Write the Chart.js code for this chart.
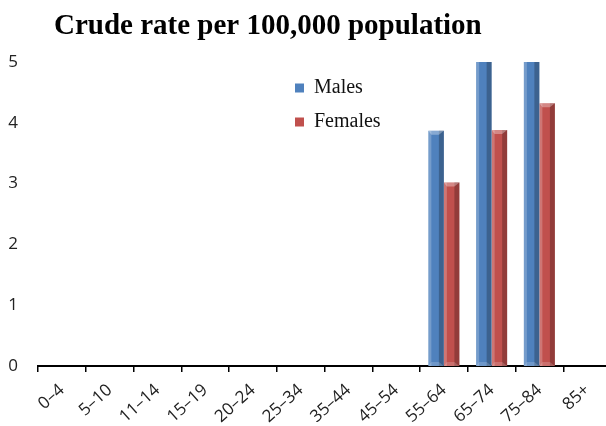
<!DOCTYPE html>
<html>
<head>
<meta charset="utf-8">
<script src="https://cdn.jsdelivr.net/npm/chart.js@4.4.1/dist/chart.umd.min.js"></script>
<style>
  html, body { margin: 0; padding: 0; background: #ffffff; overflow: hidden; }
  #wrap { width: 606px; height: 426px; overflow: hidden; position: relative; }
  canvas { display: block; }
</style>
</head>
<body>
<div id="wrap"><canvas id="c" width="614" height="426"></canvas></div>
<script>
// ---- data ----
const categories = ['0\u20134', '5\u201310', '11\u201314', '15\u201319', '20\u201324', '25\u201334', '35\u201344', '45\u201354', '55\u201364', '65\u201374', '75\u201384', '85+'];
const males   = [0, 0, 0, 0, 0, 0, 0, 0, 3.87, 5.4, 5.6, 0];   // 65–74 and 75–84 run off the top of the scale
const females = [0, 0, 0, 0, 0, 0, 0, 0, 3.02, 3.88, 4.32, 0];
const yTicks  = [0, 1, 2, 3, 4, 5];
const titleText = 'Crude rate per 100,000 population';

const BLUE = '#4f81bd';
const RED  = '#c0504d';

// bevel shading drawn over each bar using the bar elements laid out by the library
const bevelPlugin = {
  id: 'bevel',
  afterDatasetsDraw(chart) {
    const { ctx, chartArea: a } = chart;
    ctx.save();
    ctx.beginPath();
    ctx.rect(a.left, a.top, a.right - a.left, a.bottom - a.top);
    ctx.clip();
    chart.data.datasets.forEach((ds, i) => {
      const meta = chart.getDatasetMeta(i);
      meta.data.forEach(bar => {
        const { x, y, base, width } = bar.getProps(['x', 'y', 'base', 'width'], true);
        if (base - y < 1) return;
        const l = x - width / 2, r = x + width / 2;
        const e = 4;
        ctx.fillStyle = 'rgba(255,255,255,0.22)';
        ctx.fillRect(l, y, 3, base - y);
        ctx.fillStyle = 'rgba(0,0,0,0.24)';
        ctx.fillRect(r - 5, y, 5, base - y);
        ctx.fillStyle = 'rgba(255,255,255,0.32)';
        ctx.beginPath();
        ctx.moveTo(l, y); ctx.lineTo(r, y); ctx.lineTo(r - 5, y + e); ctx.lineTo(l + 3, y + e);
        ctx.closePath(); ctx.fill();
        ctx.fillStyle = 'rgba(255,255,255,0.18)';
        ctx.beginPath();
        ctx.moveTo(l, base); ctx.lineTo(r, base); ctx.lineTo(r - 5, base - e); ctx.lineTo(l + 3, base - e);
        ctx.closePath(); ctx.fill();
      });
    });
    ctx.restore();
  }
};

// place title and legend where the reference has them
const placePlugin = {
  id: 'place',
  afterLayout(chart) {
    const t = chart.titleBlock;
    if (t) { t.left = 54; }
    const lg = chart.legend;
    if (lg) {
      lg.left = 281; lg.right = 420;
      lg.top = 64; lg.bottom = 200;
    }
  }
};

new Chart(document.getElementById('c'), {
  type: 'bar',
  data: {
    labels: categories,
    datasets: [
      { label: 'Males',   data: males,   backgroundColor: BLUE, borderWidth: 0 },
      { label: 'Females', data: females, backgroundColor: RED,  borderWidth: 0 }
    ]
  },
  options: {
    responsive: false,
    animation: false,
    devicePixelRatio: 1,
    layout: { padding: { left: 0, right: 3, top: 0, bottom: 0 } },
    datasets: { bar: { categoryPercentage: 0.65, barPercentage: 1.0 } },
    plugins: {
      title: {
        display: true,
        text: titleText,
        align: 'start',
        color: '#000000',
        font: { family: '"Liberation Serif", "Times New Roman", serif', size: 29, weight: 'bold' },
        padding: { top: 9, bottom: 18.2 }
      },
      legend: {
        display: true,
        position: 'chartArea',
        align: 'start',
        labels: {
          boxWidth: 9,
          boxHeight: 9,
          padding: 14,
          color: '#111111',
          font: { family: '"Liberation Serif", "Times New Roman", serif', size: 20 }
        }
      },
      tooltip: { enabled: false }
    },
    scales: {
      x: {
        grid: { display: true, drawOnChartArea: false, drawTicks: true, tickLength: 6, color: '#000000', lineWidth: 1.5, offset: true },
        border: { display: true, color: '#000000', width: 2 },
        ticks: {
          color: '#222222',
          font: { family: '"Open Sans", "Liberation Sans", sans-serif', size: 17 },
          minRotation: 42, maxRotation: 42,
          padding: 8,
          autoSkip: false
        },
        afterFit(scale) { scale.height = 60; }
      },
      y: {
        min: 0, max: 5,
        grid: { display: false, drawTicks: false },
        border: { display: false },
        afterBuildTicks(scale) { scale.ticks = yTicks.map(v => ({ value: v })); },
        ticks: {
          color: '#222222',
          font: { family: '"Open Sans", "Liberation Sans", sans-serif', size: 17 },
          padding: 20
        },
        afterFit(scale) { scale.width = 38; }
      }
    }
  },
  plugins: [bevelPlugin, placePlugin]
});
</script>
</body>
</html>
